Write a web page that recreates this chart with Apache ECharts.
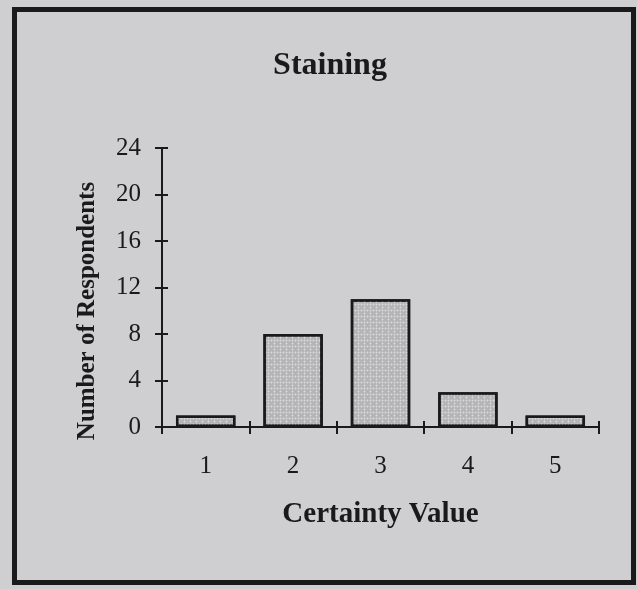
<!DOCTYPE html>
<html>
<head>
<meta charset="utf-8">
<script src="https://cdn.jsdelivr.net/npm/echarts@6/dist/echarts.min.js"></script>
<style>
  html, body { margin: 0; padding: 0; background: #cfcfd2; }
  #chart { width: 637px; height: 589px; }
</style>
</head>
<body>
<div id="chart"></div>
<script>
const categories = ['1', '2', '3', '4', '5']
const respondents = [1, 8, 11, 3, 1]
const yTicks = [0, 4, 8, 12, 16, 20, 24]

const chart = echarts.init(document.getElementById('chart'))
const serif = '"Liberation Serif", "DejaVu Serif", serif'
const ink = '#1a1a1a'
const plot = { left: 162, right: 38, top: 148, bottom: 162 }
const tickLen = 6

const option = {
  backgroundColor: '#cfcfd2',
  title: {
    text: 'Staining',
    left: 325,
    top: 45,
    textAlign: 'center',
    textStyle: { fontFamily: serif, fontWeight: 'bold', fontSize: 32, color: ink },
  },
  graphic: [
    {
      type: 'rect',
      shape: { x: 14.5, y: 9.5, width: 619, height: 573 },
      style: { fill: 'none', stroke: ink, lineWidth: 5 },
      silent: true,
    },
    {
      type: 'text',
      x: 88,
      y: 311,
      rotation: Math.PI / 2,
      style: {
        text: 'Number of Respondents',
        fontFamily: serif,
        fontWeight: 'bold',
        fontSize: 25,
        fill: ink,
        align: 'center',
        verticalAlign: 'middle',
      },
      silent: true,
    },
  ],
  grid: plot,
  xAxis: [
    {
      type: 'category',
      data: categories,
      name: 'Certainty Value',
      nameLocation: 'middle',
      nameGap: 73,
      nameTextStyle: { fontFamily: serif, fontWeight: 'bold', fontSize: 29, color: ink },
      axisLine: { show: true, lineStyle: { color: ink, width: 2 } },
      axisTick: { show: true, alignWithLabel: false, length: tickLen + 1, lineStyle: { color: ink, width: 2 } },
      axisLabel: { fontFamily: serif, fontSize: 25, color: ink, margin: 27 },
    },
    {
      // same place as the main axis, ticks turned inward for the crossing look
      type: 'category',
      data: categories,
      position: 'bottom',
      axisLine: { show: true, onZero: false, lineStyle: { color: ink, width: 2 } },
      axisTick: { show: true, inside: true, alignWithLabel: false, length: tickLen, lineStyle: { color: ink, width: 2 } },
      axisLabel: { show: false },
    },
  ],
  yAxis: [
    {
      type: 'value',
      min: 0,
      max: yTicks[yTicks.length - 1],
      interval: yTicks[1] - yTicks[0],
      axisLine: { show: true, lineStyle: { color: ink, width: 2 } },
      axisTick: { show: true, length: tickLen + 1, lineStyle: { color: ink, width: 2 } },
      axisLabel: { fontFamily: serif, fontSize: 25, color: ink, margin: 21 },
      splitLine: { show: false },
    },
    {
      type: 'value',
      position: 'left',
      min: 0,
      max: yTicks[yTicks.length - 1],
      interval: yTicks[1] - yTicks[0],
      axisLine: { show: true, onZero: false, lineStyle: { color: ink, width: 2 } },
      axisTick: { show: true, inside: true, length: tickLen, lineStyle: { color: ink, width: 2 } },
      axisLabel: { show: false },
      splitLine: { show: false },
    },
  ],
  series: [
    {
      type: 'bar',
      xAxisIndex: 0,
      yAxisIndex: 0,
      data: respondents,
      barWidth: '68%',
      itemStyle: {
        color: '#b4b4b6',
        borderColor: ink,
        borderWidth: 2.5,
        decal: {
          symbol: 'circle',
          symbolSize: 0.6,
          dashArrayX: [[3, 0], [0, 3, 3, 0]],
          dashArrayY: [3, 0],
          color: 'rgba(230,230,232,0.8)',
        },
      },
    },
    {
      // empty, only binds the inner-tick axes
      type: 'line',
      xAxisIndex: 1,
      yAxisIndex: 1,
      data: [],
      silent: true,
    },
  ],
}

chart.setOption(option)
</script>
</body>
</html>
